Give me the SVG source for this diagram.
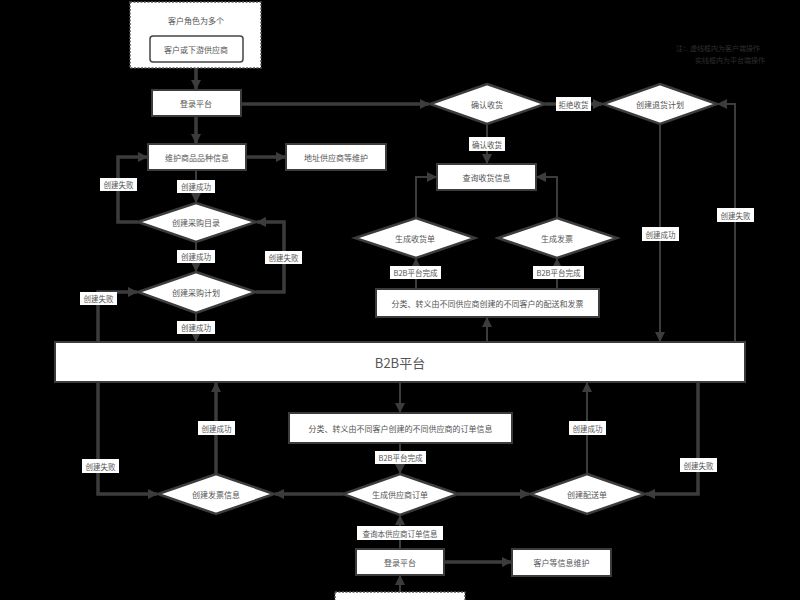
<svg xmlns="http://www.w3.org/2000/svg" width="800" height="600" viewBox="0 0 800 600">
<defs>
<marker id="ah" markerWidth="10" markerHeight="10" refX="9" refY="5" orient="auto" markerUnits="userSpaceOnUse">
<path d="M0,0 L10,5 L0,10 Z" fill="#3c3c3c"/>
</marker>
<style>
text{font-family:"Noto Sans CJK SC","Liberation Sans",sans-serif;fill:#555;text-anchor:middle;dominant-baseline:central}
.n{font-size:8px}
.l{font-size:7.5px}
.box{fill:#fff;stroke:#3c3c3c;stroke-width:2}
.dia{fill:#fff;stroke:#3c3c3c;stroke-width:2.5}
.dash{fill:#fff;stroke:#555;stroke-width:1.5;stroke-dasharray:2 1.5}
.c{fill:none;stroke:#3c3c3c;stroke-width:3.5}
.t{fill:none;stroke:#3c3c3c;stroke-width:2}
.lb{fill:#fff}
</style>
</defs>
<rect width="800" height="600" fill="#000"/>

<g id="connectors">
<path class="c" d="M196,68 V89" marker-end="url(#ah)"/>
<path class="c" d="M241,104 H429" marker-end="url(#ah)"/>
<path class="c" d="M196,116 V143" marker-end="url(#ah)"/>
<path class="c" d="M246,157 H285" marker-end="url(#ah)"/>
<path class="t" d="M196,170 V202" marker-end="url(#ah)"/>
<path class="c" d="M138,222 H118 V157 H147" marker-end="url(#ah)"/>
<path class="t" d="M196,242 V271" marker-end="url(#ah)"/>
<path class="c" d="M256,292 H284 V222 H257" marker-end="url(#ah)"/>
<path class="c" d="M98,342 V292 H137" marker-end="url(#ah)"/>
<path class="t" d="M196,313 V341" marker-end="url(#ah)"/>
<path class="c" d="M545,104 H602" marker-end="url(#ah)"/>
<path class="t" d="M660,124 V341" marker-end="url(#ah)"/>
<path class="t" d="M735,342 V104 H718" marker-end="url(#ah)"/>
<path class="t" d="M487,124 V163" marker-end="url(#ah)"/>
<path class="t" d="M416,218 V177 H436" marker-end="url(#ah)"/>
<path class="t" d="M557,218 V177 H537" marker-end="url(#ah)"/>
<path class="t" d="M416,289 V259" marker-end="url(#ah)"/>
<path class="t" d="M557,289 V259" marker-end="url(#ah)"/>
<path class="t" d="M487,342 V318" marker-end="url(#ah)"/>
<path class="c" d="M98,382 V494 H157" marker-end="url(#ah)"/>
<path class="c" d="M216,474 V383" marker-end="url(#ah)"/>
<path class="t" d="M400,382 V412" marker-end="url(#ah)"/>
<path class="t" d="M400,443 V473" marker-end="url(#ah)"/>
<path class="c" d="M343,494 H275" marker-end="url(#ah)"/>
<path class="c" d="M458,494 H529" marker-end="url(#ah)"/>
<path class="t" d="M587,474 V383" marker-end="url(#ah)"/>
<path class="c" d="M698,382 V494 H646" marker-end="url(#ah)"/>
<path class="t" d="M400,549 V516" marker-end="url(#ah)"/>
<path class="c" d="M444,562 H511" marker-end="url(#ah)"/>
<path class="t" d="M400,592 V576" marker-end="url(#ah)"/>
</g>

<g id="labels">
<rect class="lb" x="177" y="180" width="38" height="13"/><text class="l" x="196" y="186.5">创建成功</text>
<rect class="lb" x="100" y="178" width="37" height="13"/><text class="l" x="118.5" y="184.5">创建失败</text>
<rect class="lb" x="177" y="250" width="38" height="13"/><text class="l" x="196" y="256.5">创建成功</text>
<rect class="lb" x="265" y="251" width="37" height="13"/><text class="l" x="283.5" y="257.5">创建失败</text>
<rect class="lb" x="80" y="292" width="37" height="13"/><text class="l" x="98.5" y="298.5">创建失败</text>
<rect class="lb" x="177" y="321" width="38" height="13"/><text class="l" x="196" y="327.5">创建成功</text>
<rect class="lb" x="556" y="97" width="35" height="14"/><text class="l" x="573.5" y="104">拒绝收货</text>
<rect class="lb" x="469" y="137" width="36" height="14"/><text class="l" x="487" y="144">确认收货</text>
<rect class="lb" x="642" y="227" width="37" height="14"/><text class="l" x="660.5" y="234">创建成功</text>
<rect class="lb" x="717" y="208" width="37" height="14"/><text class="l" x="735.5" y="215">创建失败</text>
<rect class="lb" x="390" y="266" width="51" height="13"/><text class="l" x="415.5" y="272.5">B2B平台完成</text>
<rect class="lb" x="533" y="266" width="51" height="13"/><text class="l" x="558.5" y="272.5">B2B平台完成</text>
<rect class="lb" x="82" y="459" width="37" height="14"/><text class="l" x="100.5" y="466">创建失败</text>
<rect class="lb" x="198" y="421" width="37" height="14"/><text class="l" x="216.5" y="428">创建成功</text>
<rect class="lb" x="375" y="451" width="51" height="13"/><text class="l" x="400.5" y="457.5">B2B平台完成</text>
<rect class="lb" x="569" y="421" width="37" height="14"/><text class="l" x="587.5" y="428">创建成功</text>
<rect class="lb" x="680" y="458" width="37" height="14"/><text class="l" x="698.5" y="465">创建失败</text>
<rect class="lb" x="357" y="526" width="86" height="14"/><text class="l" x="400" y="533">查询本供应商订单信息</text>
</g>

<g id="client-top">
<rect class="dash" x="130" y="2" width="131" height="66"/>
<text class="n" x="196" y="20">客户角色为多个</text>
<rect x="150" y="36" width="93" height="26" rx="3" fill="#fff" stroke="#444" stroke-width="1.5"/>
<text class="n" x="196" y="49">客户或下游供应商</text>
</g>
<g id="login-top"><rect class="box" x="152" y="90" width="89" height="26"/><text class="n" x="196" y="103">登录平台</text></g>
<g id="maintain-goods"><rect class="box" x="148" y="144" width="98" height="26"/><text class="n" x="197" y="157">维护商品品种信息</text></g>
<g id="maintain-addr"><rect class="box" x="286" y="144" width="100" height="26"/><text class="n" x="336" y="157">地址供应商等维护</text></g>
<g id="catalog"><polygon class="dia" points="196,203 256,222 196,242 138,222"/><text class="n" x="196" y="222">创建采购目录</text></g>
<g id="plan"><polygon class="dia" points="196,272 256,292 196,313 138,292"/><text class="n" x="196" y="292">创建采购计划</text></g>
<g id="confirm"><polygon class="dia" points="487,84 545,104 487,124 430,104"/><text class="n" x="487" y="104">确认收货</text></g>
<g id="return-plan"><polygon class="dia" points="660,84 717,104 660,124 603,104"/><text class="n" x="660" y="104">创建退货计划</text></g>
<g id="query-receipt"><rect class="box" x="437" y="164" width="99" height="26"/><text class="n" x="486.5" y="177">查询收货信息</text></g>
<g id="gen-receipt"><polygon class="dia" points="416,218 475,238 416,258 355,238"/><text class="n" x="415" y="238">生成收货单</text></g>
<g id="gen-invoice"><polygon class="dia" points="557,218 617,238 557,258 498,238"/><text class="n" x="557" y="238">生成发票</text></g>
<g id="classify-delivery"><rect class="box" x="376" y="289" width="223" height="28"/><text class="n" x="487.5" y="303">分类、转义由不同供应商创建的不同客户的配送和发票</text></g>
<g id="b2b"><rect class="box" x="55" y="342" width="690" height="40"/><text x="400" y="362" style="font-size:13px;fill:#555">B2B平台</text></g>
<g id="classify-order"><rect class="box" x="289" y="413" width="223" height="30"/><text class="n" x="400.5" y="428">分类、转义由不同客户创建的不同供应商的订单信息</text></g>
<g id="invoice-info"><polygon class="dia" points="216,474 274,494 216,514 158,494"/><text class="n" x="216" y="494">创建发票信息</text></g>
<g id="supplier-order"><polygon class="dia" points="400,474 458,494 400,515 343,494"/><text class="n" x="400" y="494">生成供应商订单</text></g>
<g id="delivery"><polygon class="dia" points="587,474 645,494 587,514 530,494"/><text class="n" x="587" y="494">创建配送单</text></g>
<g id="login-bottom"><rect class="box" x="356" y="549" width="88" height="26"/><text class="n" x="400" y="562">登录平台</text></g>
<g id="customer-maint"><rect class="box" x="512" y="549" width="99" height="27"/><text class="n" x="561.5" y="562.5">客户等信息维护</text></g>
<g id="supplier-bottom"><rect class="dash" x="335" y="592" width="130" height="20"/></g>
<g id="note"><text x="718" y="48" style="font-size:7px;fill:#2e2e2e">注：虚线框内为客户端操作</text><text x="730" y="60" style="font-size:7px;fill:#2e2e2e">实线框内为平台端操作</text></g>
</svg>
